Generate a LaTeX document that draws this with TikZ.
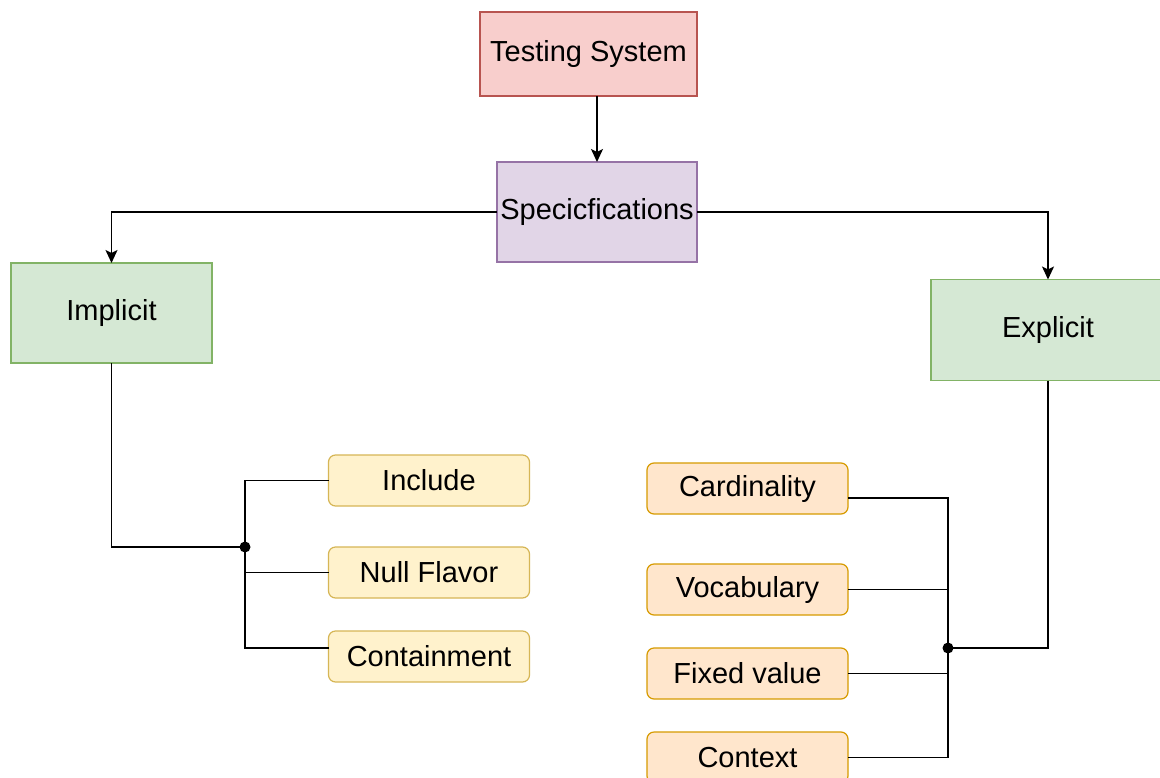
\documentclass[tikz,border=0pt]{standalone}
\usepackage{fontspec}
\setmainfont{Liberation Sans}
\usepackage{xcolor}
\usepackage{tikz}
\usetikzlibrary{arrows.meta, positioning}
\definecolor{redfill}{HTML}{F8CECC}
\definecolor{redline}{HTML}{B85450}
\definecolor{purplefill}{HTML}{E1D5E7}
\definecolor{purpleline}{HTML}{9673A6}
\definecolor{greenfill}{HTML}{D5E8D4}
\definecolor{greenline}{HTML}{82B366}
\definecolor{yellowfill}{HTML}{FFF2CC}
\definecolor{yellowline}{HTML}{D6B656}
\definecolor{orangefill}{HTML}{FFE6CC}
\definecolor{orangeline}{HTML}{D79B00}
\tikzstyle{box}=[rectangle, draw, line width=1.2pt, inner sep=0pt, outer sep=0pt, font=\fontsize{29}{34}\selectfont]
\tikzstyle{big}=[box, minimum width=201pt, minimum height=100pt, fill=greenfill, draw=greenline]
\tikzstyle{leaf}=[box, rounded corners=7pt, minimum width=201pt, minimum height=51pt]
\tikzstyle{line}=[line width=1.5pt, black]
\tikzstyle{arr}=[line, -{Stealth[length=13pt, width=12pt, inset=3pt]}]

\begin{document}
\begin{tikzpicture}[x=1pt, y=-1pt]
\path[fill=white, use as bounding box] (0,0) rectangle (1160,777);

% Top of the tree
\node[box, minimum width=217pt, minimum height=84pt, fill=redfill, draw=redline] (test) at (588.5,54) {Testing System};
\node[box, minimum width=200pt, minimum height=100pt, fill=purplefill, draw=purpleline] (spec) at (597,212) {Specicfications};
\node[big] (impl) at (111.5,313) {Implicit};
\node[big, minimum width=234pt, minimum height=101pt] (expl) at (1048,330) {Explicit};

% Implicit leaves
\node[leaf, fill=yellowfill, draw=yellowline] (incl) at (429,480.5) {Include};
\node[leaf, fill=yellowfill, draw=yellowline, below=41pt of incl] (null) {Null Flavor};
\node[leaf, fill=yellowfill, draw=yellowline, below=33pt of null] (cont) {Containment};

% Explicit leaves
\node[leaf, fill=orangefill, draw=orangeline] (card) at (747.5,488.5) {Cardinality};
\node[leaf, fill=orangefill, draw=orangeline, below=50pt of card] (voc) {Vocabulary};
\node[leaf, fill=orangefill, draw=orangeline, below=33pt of voc] (fix) {Fixed value};
\node[leaf, fill=orangefill, draw=orangeline, below=33pt of fix] (ctx) {Context};

\coordinate (jl) at (245,547);
\coordinate (jr) at (948,648);

\draw[arr] (test.south -| spec.north) -- (spec.north);
\draw[arr] (spec.west) -| (impl.north);
\draw[arr] (spec.east) -| (expl.north);

\draw[line] (impl.south) |- (jl);
\draw[line] (jl) |- (incl.west);
\draw[line] (jl) |- (null.west);
\draw[line] (jl) |- ([yshift=8.5pt]cont.west);
\fill (jl) circle (5.5pt);

\draw[line] (expl.south) |- (jr);
\draw[line] (jr) |- ([yshift=-9.5pt]card.east);
\draw[line] (jr) |- (voc.east);
\draw[line] (jr) |- (fix.east);
\draw[line] (jr) |- (ctx.east);
\fill (jr) circle (5.5pt);
\end{tikzpicture}
\end{document}
